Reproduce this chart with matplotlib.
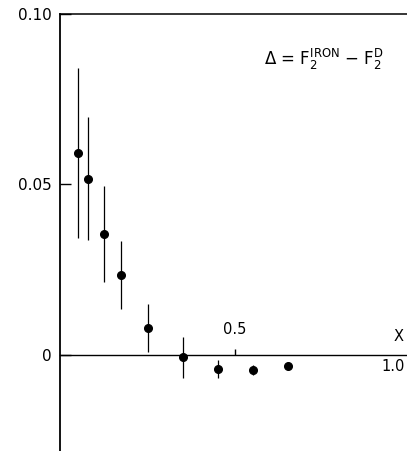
import matplotlib
matplotlib.use("Agg")
import matplotlib.pyplot as plt
import numpy as np

plt.rcParams['font.family'] = ['DejaVu Sans']
plt.rcParams['mathtext.default'] = 'regular'

# data
x_vals = [0.05, 0.08, 0.125, 0.175, 0.25, 0.35, 0.45, 0.55, 0.65]
delta = [0.0592, 0.0517, 0.0354, 0.0235, 0.0078, -0.0007, -0.0041, -0.0044, -0.0032]
delta_err = [0.025, 0.018, 0.014, 0.010, 0.007, 0.006, 0.0027, 0.0015, 0.001]
y_ticks = [0.0, 0.05, 0.10]
y_tick_labels = ['0', '0.05', '0.10']

fig = plt.figure(figsize=(4.07, 4.51), dpi=100)
ax = fig.add_axes([60/407, 0.0, 1 - 60/407, 1 - 14/451])
ax.set_xlim(0, (407 - 60) / 350)
ax.set_ylim(-0.0282, 0.10)

ax.errorbar(x_vals, delta, yerr=delta_err, fmt='o', color='black',
            markersize=5.5, elinewidth=0.9, capsize=0, zorder=3)

ax.spines['right'].set_visible(False)
ax.spines['left'].set_linewidth(1.3)
ax.spines['top'].set_linewidth(1.1)
ax.spines['bottom'].set_position(('data', 0))
ax.spines['bottom'].set_linewidth(1.0)

ax.set_yticks(y_ticks)
ax.set_yticklabels(y_tick_labels)
ax.tick_params(axis='y', direction='in', length=8, width=1.0, pad=6, labelsize=11)
ax.set_xticks([0.5])
ax.set_xticklabels([])
ax.tick_params(axis='x', direction='in', length=4, width=1.0)

ax.text(0.5, 0.0074, '0.5', ha='center', va='center', fontsize=10.5)
ax.text(0.966, 0.0053, 'X', ha='center', va='center', fontsize=10.5)
ax.text(0.984, -0.0034, '1.0', ha='right', va='center', fontsize=10.5)
ax.text(0.753, 0.0866, r'$\Delta$ = F$_2^{IRON}$ $-$ F$_2^{D}$',
        ha='center', va='center', fontsize=12)

fig.savefig('out.png', dpi=100)
